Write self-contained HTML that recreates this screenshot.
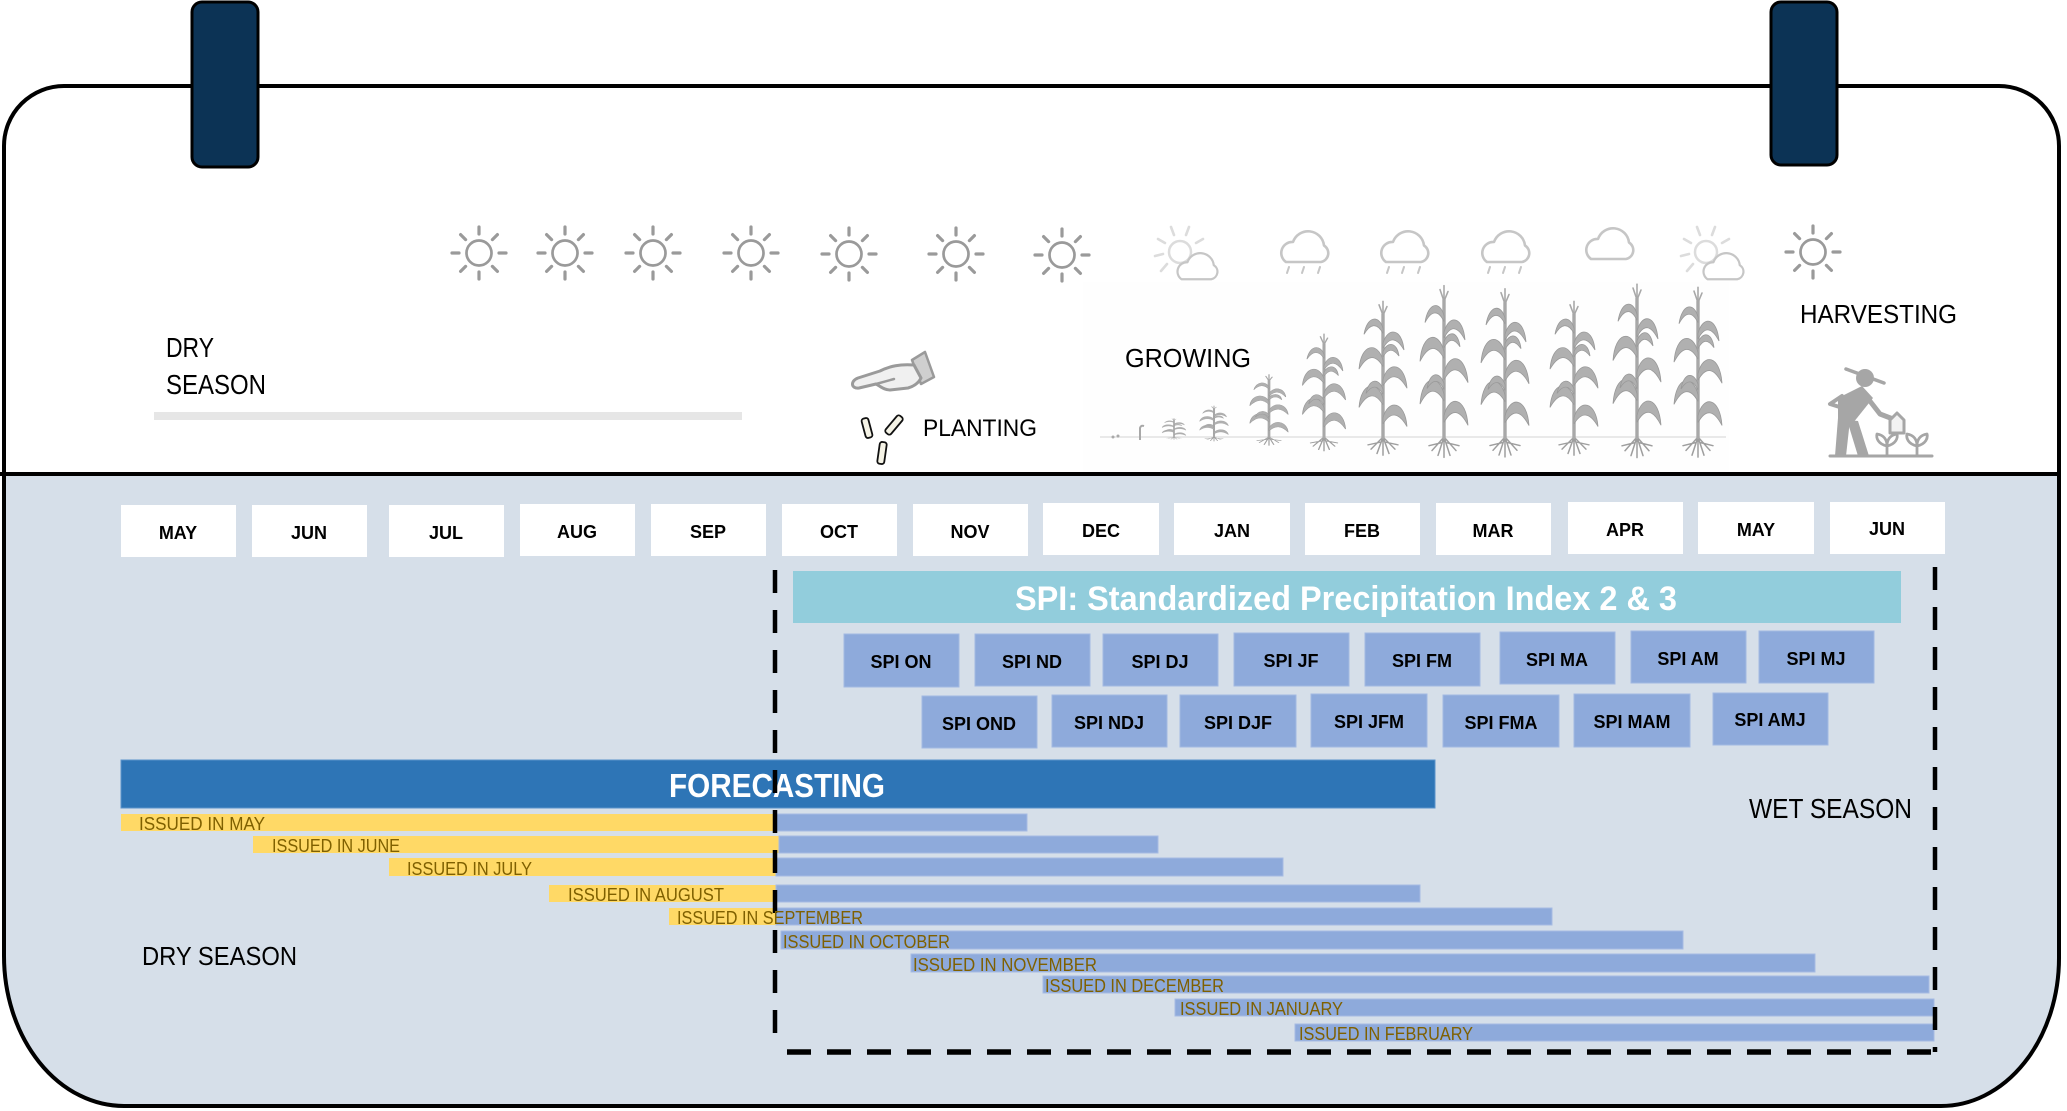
<!DOCTYPE html>
<html><head><meta charset="utf-8">
<style>
html,body{margin:0;padding:0;background:#fff;}
svg{display:block;}
text{font-family:"Liberation Sans",Arial,sans-serif;}
</style></head><body>
<svg width="2067" height="1111" viewBox="0 0 2067 1111" xmlns="http://www.w3.org/2000/svg" xmlns:xlink="http://www.w3.org/1999/xlink">
<defs>
  <clipPath id="cal"><path d="M4,146 A60,60 0 0 1 64,86 H1999 A60,60 0 0 1 2059,146 V958 A118,148 0 0 1 1941,1106 H124 A120,150 0 0 1 4,956 Z"/></clipPath>
  <g id="sun">
    <circle r="12.5" fill="none" stroke="#9a9a9a" stroke-width="2.7"/>
    <g stroke="#9a9a9a" stroke-width="3.2" stroke-linecap="round">
      <line x1="0" y1="-19" x2="0" y2="-26"/>
      <line x1="0" y1="19" x2="0" y2="26"/>
      <line x1="-20" y1="0" x2="-27" y2="0"/>
      <line x1="20" y1="0" x2="27" y2="0"/>
      <line x1="13.4" y1="-13.4" x2="18.4" y2="-18.4"/>
      <line x1="-13.4" y1="-13.4" x2="-18.4" y2="-18.4"/>
      <line x1="13.4" y1="13.4" x2="18.4" y2="18.4"/>
      <line x1="-13.4" y1="13.4" x2="-18.4" y2="18.4"/>
    </g>
  </g>
  <path id="cloud" d="M10,35 H45 A9,9 0 0 0 48,18.5 A16,16 0 0 0 17,15 A11,11 0 0 0 10,35 Z" fill="#fff" stroke="#c6c6c6" stroke-width="2.6" stroke-linejoin="round"/>
  <g id="rain" stroke="#c6c6c6" stroke-width="2" stroke-linecap="round">
    <line x1="13" y1="40" x2="11" y2="46"/>
    <line x1="28" y1="40" x2="26" y2="46"/>
    <line x1="44" y1="40" x2="42" y2="46"/>
  </g>
  <g id="psun">
    <circle r="11" fill="none" stroke="#dcdcdc" stroke-width="2.5"/>
    <g stroke="#dcdcdc" stroke-width="2.6" stroke-linecap="round">
      <line x1="-6" y1="-17" x2="-9" y2="-25"/>
      <line x1="6" y1="-17" x2="9" y2="-25"/>
      <line x1="-15" y1="-9" x2="-22" y2="-13"/>
      <line x1="16" y1="-9" x2="23" y2="-13"/>
      <line x1="-17" y1="2" x2="-25" y2="4"/>
      <line x1="-13" y1="12" x2="-19" y2="19"/>
    </g>
  </g>
  <g id="corn">
    <g stroke="#9e9e9e" stroke-width="1.5" fill="none" stroke-linecap="round">
      <path d="M0,0 L-12,14 M0,0 L-6,19 M0,0 L0,21 M0,0 L6,19 M0,0 L12,14 M-3,6 L-15,9 M3,6 L15,9"/>
    </g>
    <line x1="0" y1="2" x2="0" y2="-142" stroke="#a8a8a8" stroke-width="3.4"/>
    <g fill="#b0b0b0" stroke="#999" stroke-width="0.8">
      <path d="M0,-22 C5,-44 22,-42 24,-12 C16,-28 8,-30 0,-15 Z"/>
      <path d="M0,-44 C-5,-66 -22,-64 -24,-34 C-16,-50 -8,-52 0,-37 Z"/>
      <path d="M0,-66 C5,-88 22,-86 24,-56 C16,-72 8,-74 0,-59 Z"/>
      <path d="M0,-88 C-5,-110 -22,-108 -24,-78 C-16,-94 -8,-96 0,-81 Z"/>
      <path d="M0,-108 C5,-127 19,-125 21,-100 C14,-114 7,-116 0,-102 Z"/>
      <path d="M0,-125 C-4,-141 -16,-139 -19,-118 C-13,-130 -6,-132 0,-119 Z"/>
      <path d="M0,-55 C-4,-68 -14,-68 -17,-50 C-11,-60 -5,-60 0,-49 Z"/>
      <path d="M0,-98 C4,-110 14,-110 16,-93 C10,-102 5,-102 0,-92 Z"/>
    </g>
    <g stroke="#a8a8a8" stroke-width="1.6" stroke-linecap="round">
      <line x1="0" y1="-140" x2="-4" y2="-152"/>
      <line x1="0" y1="-140" x2="4" y2="-150"/>
      <line x1="0" y1="-142" x2="0" y2="-156"/>
    </g>
  </g>
</defs>

<!-- calendar body -->
<g clip-path="url(#cal)">
  <rect x="0" y="0" width="2067" height="1111" fill="#fff"/>
  <rect x="0" y="474" width="2067" height="640" fill="#d6dfe9"/>
</g>
<rect x="1083" y="282" width="646" height="190" fill="#fefefe"/>
<path d="M4,146 A60,60 0 0 1 64,86 H1999 A60,60 0 0 1 2059,146 V958 A118,148 0 0 1 1941,1106 H124 A120,150 0 0 1 4,956 Z" fill="none" stroke="#000" stroke-width="4"/>
<line x1="0" y1="474" x2="2061" y2="474" stroke="#000" stroke-width="4"/>

<!-- tabs -->
<rect x="192" y="2" width="66" height="165" rx="10" fill="#0c3355" stroke="#000" stroke-width="3"/>
<rect x="1771" y="2" width="66" height="163" rx="10" fill="#0c3355" stroke="#000" stroke-width="3"/>

<!-- weather icons -->
<use xlink:href="#sun" href="#sun" transform="translate(479,253)"/>
<use xlink:href="#sun" href="#sun" transform="translate(565,253)"/>
<use xlink:href="#sun" href="#sun" transform="translate(653,253)"/>
<use xlink:href="#sun" href="#sun" transform="translate(751,253)"/>
<use xlink:href="#sun" href="#sun" transform="translate(849,254)"/>
<use xlink:href="#sun" href="#sun" transform="translate(956,254)"/>
<use xlink:href="#sun" href="#sun" transform="translate(1062,255)"/>
<use xlink:href="#sun" href="#sun" transform="translate(1813,252)"/>

<use xlink:href="#psun" href="#psun" transform="translate(1180,252)"/>
<use xlink:href="#cloud" href="#cloud" transform="translate(1173,249.5) scale(0.85)"/>
<use xlink:href="#psun" href="#psun" transform="translate(1706,252)"/>
<use xlink:href="#cloud" href="#cloud" transform="translate(1699,249.5) scale(0.85)"/>

<use xlink:href="#cloud" href="#cloud" transform="translate(1276,227)"/>
<use xlink:href="#rain" href="#rain" transform="translate(1276,227)"/>
<use xlink:href="#cloud" href="#cloud" transform="translate(1376,227)"/>
<use xlink:href="#rain" href="#rain" transform="translate(1376,227)"/>
<use xlink:href="#cloud" href="#cloud" transform="translate(1477,227)"/>
<use xlink:href="#rain" href="#rain" transform="translate(1477,227)"/>
<use xlink:href="#cloud" href="#cloud" transform="translate(1581,224)"/>

<!-- dry season top -->
<text x="166" y="357" font-size="28" textLength="48" lengthAdjust="spacingAndGlyphs">DRY</text>
<text x="166" y="394" font-size="28" textLength="100" lengthAdjust="spacingAndGlyphs">SEASON</text>
<rect x="154" y="412" width="588" height="8" fill="#e6e6e6"/>

<!-- planting -->
<polygon points="912,360 925,352 934,377 921,384" fill="#cfcfcf" stroke="#9a9a9a" stroke-width="2.5" stroke-linejoin="round"/>
<path d="M914,365 C900,364 890,366 880,371 L858,378 C850,381 851,389 859,388 L876,384 C880,386 884,390 890,390 L908,388 C915,386 919,382 921,378 Z" fill="#f0f0f0" stroke="#9a9a9a" stroke-width="3" stroke-linejoin="round"/>
<path d="M876,384 L894,379" stroke="#9a9a9a" stroke-width="2.5" fill="none" stroke-linecap="round"/>
<rect x="-3.5" y="-10" width="7" height="20" rx="2.5" fill="#f5f3e6" stroke="#111" stroke-width="1.8" transform="translate(867,428) rotate(-15)"/>
<rect x="-3.5" y="-11" width="7" height="22" rx="2.5" fill="#f5f3e6" stroke="#111" stroke-width="1.8" transform="translate(894,425) rotate(40)"/>
<rect x="-3.5" y="-11" width="7" height="22" rx="2.5" fill="#f5f3e6" stroke="#111" stroke-width="1.8" transform="translate(882,453) rotate(8)"/>
<text x="923" y="436" font-size="24" textLength="114" lengthAdjust="spacingAndGlyphs">PLANTING</text>

<!-- growing -->
<text x="1125" y="367" font-size="26" textLength="126" lengthAdjust="spacingAndGlyphs">GROWING</text>
<line x1="1100" y1="437" x2="1726" y2="437" stroke="#e2e2e2" stroke-width="1.5"/>
<g fill="#aaa"><circle cx="1113" cy="437" r="1.5"/><circle cx="1118" cy="436" r="1.5"/></g>
<path d="M1140,440 L1140,428 Q1141,425 1144,426" stroke="#a8a8a8" stroke-width="2" fill="none"/>
<use xlink:href="#corn" href="#corn" transform="translate(1174,437) scale(0.5,0.12)"/>
<use xlink:href="#corn" href="#corn" transform="translate(1214,437) scale(0.6,0.2)"/>
<use xlink:href="#corn" href="#corn" transform="translate(1269,437) scale(0.8,0.4)"/>
<use xlink:href="#corn" href="#corn" transform="translate(1324,437) scale(0.9,0.66)"/>
<use xlink:href="#corn" href="#corn" transform="translate(1383,437) scale(1,0.87)"/>
<use xlink:href="#corn" href="#corn" transform="translate(1444,437) scale(1,0.97)"/>
<use xlink:href="#corn" href="#corn" transform="translate(1505,437) scale(1,0.95)"/>
<use xlink:href="#corn" href="#corn" transform="translate(1574,437) scale(1,0.87)"/>
<use xlink:href="#corn" href="#corn" transform="translate(1637,437) scale(1,0.98)"/>
<use xlink:href="#corn" href="#corn" transform="translate(1698,437) scale(1,0.96)"/>

<!-- harvesting -->
<text x="1800" y="323" font-size="26" textLength="157" lengthAdjust="spacingAndGlyphs">HARVESTING</text>
<g fill="#a6a6a6" stroke="none">
  <circle cx="1865" cy="378" r="9"/>
  <polygon points="1838,398 1862,386 1873,398 1853,423 1838,421"/>
  <polygon points="1838,418 1850,420 1846,456 1835,456"/>
  <polygon points="1847,420 1858,421 1869,456 1858,456"/>
</g>
<g stroke="#a6a6a6" fill="none" stroke-linecap="round" stroke-linejoin="round">
  <line x1="1846" y1="369" x2="1884" y2="383" stroke-width="3.5"/>
  <path d="M1866,396 L1880,414 L1893,419" stroke-width="5"/>
  <path d="M1842,396 L1830,404 L1846,409" stroke-width="4"/>
  <path d="M1890,433 V420 L1897,413 L1904,420 V433 Z" stroke-width="3" fill="#f2f2f2"/>
  <line x1="1830" y1="456" x2="1932" y2="456" stroke-width="3"/>
  <path d="M1887,455 V444 M1887,446 C1878,444 1876,438 1877,434 C1884,435 1887,440 1887,446 M1887,446 C1896,444 1898,438 1897,434 C1890,435 1887,440 1887,446" stroke-width="2.8"/>
  <path d="M1917,455 V444 M1917,446 C1908,444 1906,438 1907,434 C1914,435 1917,440 1917,446 M1917,446 C1926,444 1928,438 1927,434 C1920,435 1917,440 1917,446" stroke-width="2.8"/>
</g>

<!-- month boxes -->
<g fill="#fff">
  <rect x="121" y="505" width="115" height="52"/>
  <rect x="252" y="505" width="115" height="52"/>
  <rect x="389" y="505" width="115" height="52"/>
  <rect x="520" y="504" width="115" height="52"/>
  <rect x="651" y="504" width="115" height="52"/>
  <rect x="782" y="504" width="115" height="52"/>
  <rect x="913" y="504" width="115" height="52"/>
  <rect x="1043" y="503" width="116" height="52"/>
  <rect x="1174" y="503" width="116" height="52"/>
  <rect x="1305" y="503" width="115" height="52"/>
  <rect x="1436" y="503" width="115" height="52"/>
  <rect x="1568" y="502" width="115" height="52"/>
  <rect x="1698" y="502" width="116" height="52"/>
  <rect x="1830" y="502" width="115" height="52"/>
</g>
<g font-size="18" font-weight="bold" text-anchor="middle" fill="#000">
  <text x="178" y="539">MAY</text>
  <text x="309" y="539">JUN</text>
  <text x="446" y="539">JUL</text>
  <text x="577" y="538">AUG</text>
  <text x="708" y="538">SEP</text>
  <text x="839" y="538">OCT</text>
  <text x="970" y="538">NOV</text>
  <text x="1101" y="537">DEC</text>
  <text x="1232" y="537">JAN</text>
  <text x="1362" y="537">FEB</text>
  <text x="1493" y="537">MAR</text>
  <text x="1625" y="536">APR</text>
  <text x="1756" y="536">MAY</text>
  <text x="1887" y="535">JUN</text>
</g>

<!-- SPI banner -->
<rect x="793" y="571" width="1108" height="52" fill="#92cddc"/>
<text x="1015" y="610" font-size="34" font-weight="bold" fill="#fff" textLength="662" lengthAdjust="spacingAndGlyphs">SPI: Standardized Precipitation Index 2 &amp; 3</text>

<g fill="#8eaadb" stroke="#a3b9e2" stroke-width="1">
  <rect x="844" y="634" width="115" height="53"/>
  <rect x="975" y="634" width="115" height="52"/>
  <rect x="1103" y="634" width="115" height="52"/>
  <rect x="1234" y="633" width="115" height="53"/>
  <rect x="1365" y="633" width="115" height="53"/>
  <rect x="1500" y="632" width="115" height="52"/>
  <rect x="1631" y="631" width="115" height="52"/>
  <rect x="1759" y="631" width="115" height="52"/>
  <rect x="922" y="696" width="115" height="52"/>
  <rect x="1052" y="695" width="115" height="52"/>
  <rect x="1180" y="695" width="116" height="52"/>
  <rect x="1311" y="694" width="116" height="53"/>
  <rect x="1443" y="695" width="116" height="52"/>
  <rect x="1574" y="694" width="116" height="53"/>
  <rect x="1713" y="693" width="115" height="52"/>
</g>
<g font-size="18" font-weight="bold" text-anchor="middle" fill="#000">
  <text x="901" y="668">SPI ON</text>
  <text x="1032" y="668">SPI ND</text>
  <text x="1160" y="668">SPI DJ</text>
  <text x="1291" y="667">SPI JF</text>
  <text x="1422" y="667">SPI FM</text>
  <text x="1557" y="666">SPI MA</text>
  <text x="1688" y="665">SPI AM</text>
  <text x="1816" y="665">SPI MJ</text>
  <text x="979" y="730">SPI OND</text>
  <text x="1109" y="729">SPI NDJ</text>
  <text x="1238" y="729">SPI DJF</text>
  <text x="1369" y="728">SPI JFM</text>
  <text x="1501" y="729">SPI FMA</text>
  <text x="1632" y="728">SPI MAM</text>
  <text x="1770" y="726">SPI AMJ</text>
</g>

<!-- forecasting -->
<rect x="121" y="760" width="1314" height="48" fill="#2e75b6" stroke="#5b93cb" stroke-width="1"/>
<text x="669" y="797" font-size="33" font-weight="bold" fill="#fff" textLength="216" lengthAdjust="spacingAndGlyphs">FORECASTING</text>

<!-- issued bars -->
<g fill="#ffd966">
  <rect x="121" y="814" width="655" height="17"/>
  <rect x="253" y="836" width="526" height="17"/>
  <rect x="389" y="858" width="387" height="18"/>
  <rect x="549" y="885" width="227" height="17"/>
  <rect x="669" y="908" width="107" height="17"/>
</g>
<g fill="#8eaadb" stroke="#a6bbe3" stroke-width="1">
  <rect x="776" y="814" width="251" height="17"/>
  <rect x="779" y="836" width="379" height="17"/>
  <rect x="776" y="858" width="507" height="18"/>
  <rect x="776" y="885" width="644" height="17"/>
  <rect x="776" y="908" width="776" height="17"/>
  <rect x="781" y="931" width="902" height="18"/>
  <rect x="911" y="954" width="904" height="18"/>
  <rect x="1043" y="976" width="886" height="17"/>
  <rect x="1175" y="999" width="759" height="17"/>
  <rect x="1295" y="1024" width="639" height="17"/>
</g>

<!-- dashed wet season box -->
<g stroke="#000" fill="none">
  <line x1="775" y1="570" x2="775" y2="1036" stroke-width="4.5" stroke-dasharray="23 17"/>
  <line x1="1935" y1="567" x2="1935" y2="1052" stroke-width="4.5" stroke-dasharray="23 17"/>
  <line x1="787" y1="1052" x2="1938" y2="1052" stroke-width="5.5" stroke-dasharray="24 16"/>
</g>

<g font-size="18" fill="#7f6000">
  <text x="139" y="830" textLength="126" lengthAdjust="spacingAndGlyphs">ISSUED IN MAY</text>
  <text x="272" y="852" textLength="128" lengthAdjust="spacingAndGlyphs">ISSUED IN JUNE</text>
  <text x="407" y="875" textLength="125" lengthAdjust="spacingAndGlyphs">ISSUED IN JULY</text>
  <text x="568" y="901" textLength="156" lengthAdjust="spacingAndGlyphs">ISSUED IN AUGUST</text>
  <text x="677" y="924" textLength="186" lengthAdjust="spacingAndGlyphs">ISSUED IN SEPTEMBER</text>
  <text x="783" y="948" textLength="167" lengthAdjust="spacingAndGlyphs">ISSUED IN OCTOBER</text>
  <text x="913" y="971" textLength="184" lengthAdjust="spacingAndGlyphs">ISSUED IN NOVEMBER</text>
  <text x="1045" y="992" textLength="179" lengthAdjust="spacingAndGlyphs">ISSUED IN DECEMBER</text>
  <text x="1180" y="1015" textLength="163" lengthAdjust="spacingAndGlyphs">ISSUED IN JANUARY</text>
  <text x="1299" y="1040" textLength="174" lengthAdjust="spacingAndGlyphs">ISSUED IN FEBRUARY</text>
</g>

<text x="142" y="965" font-size="26" textLength="155" lengthAdjust="spacingAndGlyphs">DRY SEASON</text>
<text x="1749" y="818" font-size="28" textLength="163" lengthAdjust="spacingAndGlyphs">WET SEASON</text>
</svg>
</body></html>
